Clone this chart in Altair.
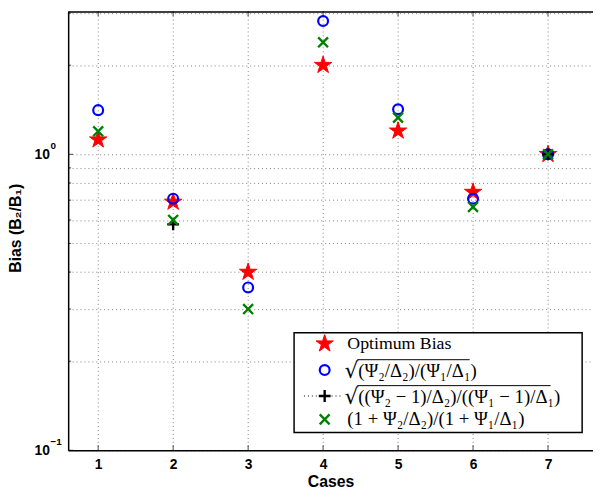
import altair as alt
import pandas as pd

# ---- data ----
cases = [1, 2, 3, 4, 5, 6, 7]
optimum_bias = [1.12, 0.69, 0.40, 2.0, 1.20, 0.745, 1.0]
sqrt_psi_delta = [1.41, 0.708, 0.355, 2.82, 1.42, 0.708, 1.0]
plus_cases = [2, 7]
sqrt_psi_minus_one = [0.58, 1.0]
one_plus_ratio = [1.196, 0.60, 0.30, 2.39, 1.33, 0.664, 1.0]

x_ticks = [1, 2, 3, 4, 5, 6, 7]
y_grid = [0.1, 0.2, 0.3, 0.4, 0.5, 0.6, 0.7, 0.8, 0.9, 1, 2, 3]
y_major = [0.1, 1]
y_exponents = ["−1", "0"]
y_minor = [0.2, 0.3, 0.4, 0.5, 0.6, 0.7, 0.8, 0.9, 2, 3]

legend_labels = [
    "Optimum Bias",
    "(Ψ₂/Δ₂)/(Ψ₁/Δ₁)",
    "((Ψ₂ − 1)/Δ₂)/((Ψ₁ − 1)/Δ₁)",
    "(1 + Ψ₂/Δ₂)/(1 + Ψ₁/Δ₁)",
]

# ---- layout / style ----
W, H = 532, 445
X_DOMAIN = [0.6, 7.6]
Y_DOMAIN = [0.1, 3.043]
STAR = ("M0,-1L0.225,-0.309L0.951,-0.309L0.363,0.118L0.588,0.809L0,0.382"
        "L-0.588,0.809L-0.363,0.118L-0.951,-0.309L-0.225,-0.309Z")
XMARK = "M-1,-1L1,1M-1,1L1,-1"
PLUS = "M-1,0L1,0M0,-1L0,1"
RED, BLUE, GREEN = "#ff0000", "#0000ff", "#008000"

xscale = alt.Scale(domain=X_DOMAIN, nice=False, zero=False)
yscale = alt.Scale(type="log", domain=Y_DOMAIN, nice=False)

xaxis = alt.Axis(values=x_ticks, grid=True, ticks=False, tickSize=0, labelPadding=7,
                 title="Cases", titleY=32, titleBaseline="middle", format="d")
yaxis = alt.Axis(values=y_grid, grid=True, ticks=False, tickSize=0, labelPadding=19,
                 labelExpr="datum.value == 1 || datum.value < 0.11 ? '10' : ''",
                 title="Bias (B₂/B₁)", titleX=-48, titleY=219.5, titleAngle=270,
                 titleBaseline="alphabetic", titleAlign="center")

X_ENC = alt.X("case:Q", scale=xscale, axis=xaxis)
Y_ENC = alt.Y("value:Q", scale=yscale, axis=yaxis)

df_star = pd.DataFrame({"case": cases, "value": optimum_bias})
df_circ = pd.DataFrame({"case": cases, "value": sqrt_psi_delta})
df_plus = pd.DataFrame({"case": plus_cases, "value": sqrt_psi_minus_one})
df_x = pd.DataFrame({"case": cases, "value": one_plus_ratio})

stars = alt.Chart(df_star).mark_point(shape=STAR, size=340, filled=True, fill=RED,
                                      stroke=RED, strokeWidth=1, opacity=1).encode(x=X_ENC, y=Y_ENC)
circles = alt.Chart(df_circ).mark_point(shape="circle", size=100, filled=False,
                                        stroke=BLUE, strokeWidth=2.2, opacity=1).encode(x=X_ENC, y=Y_ENC)
pluses = alt.Chart(df_plus).mark_point(shape=PLUS, size=144, filled=False,
                                       stroke="black", strokeWidth=2.4, opacity=1).encode(x=X_ENC, y=Y_ENC)
xs = alt.Chart(df_x).mark_point(shape=XMARK, size=100, filled=False,
                                stroke=GREEN, strokeWidth=2.4, opacity=1).encode(x=X_ENC, y=Y_ENC)

# exponents of the y tick labels (10^-1, 10^0)
exps = alt.Chart(pd.DataFrame({"value": y_major, "exp": y_exponents})).mark_text(
    align="left", baseline="middle", font="Liberation Sans", fontWeight="bold",
    fontSize=10, color="black", dy=-8).encode(y=Y_ENC, x=alt.value(-18), text="exp:N")

# inward ticks (MATLAB style)
df_xt = pd.DataFrame({"case": x_ticks})
xt_bottom = alt.Chart(df_xt).mark_tick(orient="vertical", size=5, thickness=1, color="black").encode(
    x=X_ENC, y=alt.value(H - 2.5))
xt_top = alt.Chart(df_xt).mark_tick(orient="vertical", size=5, thickness=1, color="black").encode(
    x=X_ENC, y=alt.value(2.5))
yt_major = alt.Chart(pd.DataFrame({"value": y_major})).mark_tick(
    orient="horizontal", size=5, thickness=1, color="black").encode(y=Y_ENC, x=alt.value(2.5))
yt_minor = alt.Chart(pd.DataFrame({"value": y_minor})).mark_tick(
    orient="horizontal", size=3, thickness=1, color="black").encode(y=Y_ENC, x=alt.value(1.5))

one = pd.DataFrame({"k": [0]})
top_border = alt.Chart(one).mark_rule(color="black", strokeWidth=1.5).encode(
    x=alt.value(0), x2=alt.value(W), y=alt.value(0.75))

# ---- manual legend ----
LX0, LX1, LY0, LY1 = 229, 521, 326, 427
rows = [337, 363.7, 390, 413.7]
MX, TX = 260, 283
box = alt.Chart(one).mark_rect(fill="white", stroke="black", strokeWidth=1.5).encode(
    x=alt.value(LX0), x2=alt.value(LX1), y=alt.value(LY0), y2=alt.value(LY1))
lg_star = alt.Chart(one).mark_point(shape=STAR, size=340, filled=True, fill=RED, stroke=RED,
                                    strokeWidth=1, opacity=1).encode(x=alt.value(MX), y=alt.value(rows[0]))
lg_circ = alt.Chart(one).mark_point(shape="circle", size=100, filled=False, stroke=BLUE,
                                    strokeWidth=2.2, opacity=1).encode(x=alt.value(MX), y=alt.value(rows[1]))
lg_line = alt.Chart(one).mark_rule(color="black", strokeWidth=1, strokeDash=[1, 3]).encode(
    x=alt.value(239), x2=alt.value(277), y=alt.value(rows[2]))
lg_plus = alt.Chart(one).mark_point(shape=PLUS, size=144, filled=False, stroke="black",
                                    strokeWidth=2.4, opacity=1).encode(x=alt.value(MX), y=alt.value(rows[2]))
lg_x = alt.Chart(one).mark_point(shape=XMARK, size=100, filled=False, stroke=GREEN,
                                 strokeWidth=2.4, opacity=1).encode(x=alt.value(MX), y=alt.value(rows[3]))

def ltext(txt, x, y, size=18, font="Liberation Serif"):
    return alt.Chart(one).mark_text(text=txt, align="left", baseline="middle", font=font,
                                    fontSize=size, color="black").encode(x=alt.value(x), y=alt.value(y))

def vinc(x0, x1, y):
    return alt.Chart(one).mark_rule(color="black", strokeWidth=1).encode(
        x=alt.value(x0), x2=alt.value(x1), y=alt.value(y))

MATH = 19
t0 = ltext(legend_labels[0], TX, rows[0], size=18)
r1 = ltext("√", TX - 3, rows[1] + 1, size=22, font="DejaVu Serif")
t1 = ltext(legend_labels[1], TX + 11, rows[1] + 1, size=MATH)
v1 = vinc(TX + 10, TX + 124, rows[1] - 10.5)
r2 = ltext("√", TX - 3, rows[2] + 1, size=22, font="DejaVu Serif")
t2 = ltext(legend_labels[2], TX + 11, rows[2] + 1, size=MATH)
v2 = vinc(TX + 10, TX + 206, rows[2] - 10.5)
t3 = ltext(legend_labels[3], TX, rows[3], size=MATH)

chart = alt.layer(
    stars, circles, pluses, xs, exps,
    xt_bottom, xt_top, yt_major, yt_minor, top_border,
    box, lg_star, lg_circ, lg_line, lg_plus, lg_x,
    t0, r1, t1, v1, r2, t2, v2, t3,
).properties(
    width=W, height=H,
    autosize=alt.AutoSizeParams(type="none"),
    padding={"left": 61, "top": 0, "right": 0, "bottom": 38},
).configure_view(stroke=None).configure_axis(
    labelFont="Liberation Sans", labelFontWeight="bold", labelFontSize=14, labelColor="black",
    titleFont="Liberation Sans", titleFontWeight="bold", titleFontSize=16, titleColor="black",
    domainColor="black", domainWidth=1.5,
    gridColor="#808080", gridDash=[1, 3], gridWidth=1, gridOpacity=1,
)

chart.save("out.html", embed_options={"renderer": "svg", "actions": False})
